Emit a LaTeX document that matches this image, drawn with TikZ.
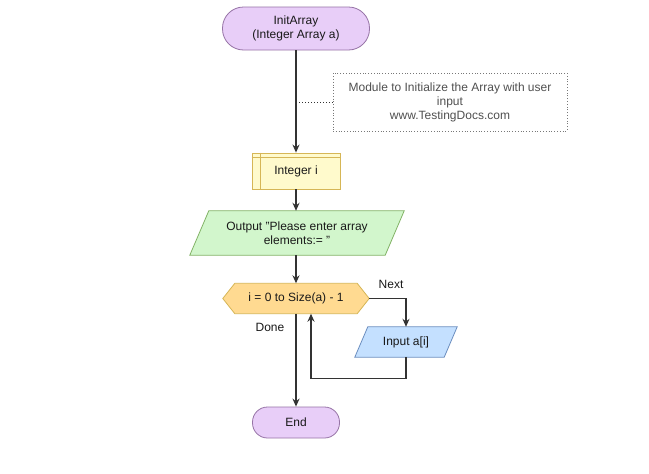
\documentclass[tikz,border=0pt]{standalone}
\usepackage{fontspec}
\setmainfont{Liberation Sans}
\usetikzlibrary{arrows.meta,calc}

\definecolor{termfill}{RGB}{232,206,248}
\definecolor{termdraw}{RGB}{150,115,166}
\definecolor{declfill}{RGB}{255,250,204}
\definecolor{decldraw}{RGB}{214,182,86}
\definecolor{outfill}{RGB}{210,246,204}
\definecolor{outdraw}{RGB}{130,179,102}
\definecolor{loopfill}{RGB}{255,218,145}
\definecolor{loopdraw}{RGB}{214,182,86}
\definecolor{infill}{RGB}{196,224,255}
\definecolor{indraw}{RGB}{108,142,191}
\definecolor{wire}{RGB}{51,51,51}
\definecolor{notetext}{RGB}{80,80,80}
\definecolor{notedraw}{RGB}{120,120,120}

\tikzset{
  txt/.style={font=\fontsize{12}{14}\selectfont, text=black!90, align=center},
  term/.style={txt, draw=termdraw, fill=termfill, line width=0.8pt, inner sep=0pt},
  decl/.style={txt, draw=decldraw, fill=declfill, line width=0.8pt, inner sep=0pt},
  frame/.style={txt, inner sep=0pt},
  conn/.style={draw=wire, line width=1.3pt, -{Stealth[length=8pt,width=7pt]}},
  link/.style={draw=wire, line width=1.3pt},
  notelink/.style={draw=wire, line width=1pt, dotted},
  notebox/.style={txt, text=notetext, draw=notedraw, line width=0.8pt, dotted, inner sep=0pt},
  lbl/.style={txt},
}

\begin{document}
\begin{tikzpicture}[x=1pt,y=-1pt]
\useasboundingbox[fill=white] (0,0) rectangle (649,474);

% start terminator
\node[term, minimum width=147pt, minimum height=43pt, rounded corners=21pt]
  (start) at (296,28.5) {InitArray\\(Integer Array a)};

% annotation
\node[notebox, minimum width=234pt, minimum height=58pt]
  (note) at (450,102) {Module to Initialize the Array with user\\input\\www.TestingDocs.com};

% declaration box
\node[decl, minimum width=88pt, minimum height=36pt]
  (int) at (296,171) {\raisebox{-2.5pt}{Integer i}};
\draw[decldraw, line width=0.8pt] ([yshift=-5pt]int.north west) -- ([yshift=-5pt]int.north east);
\draw[decldraw, line width=0.8pt] ([xshift=9pt]int.north west) -- ([xshift=9pt]int.south west);

% output parallelogram
\node[frame, minimum width=214pt, minimum height=44pt]
  (out) at (297,233) {};
\draw[draw=outdraw, fill=outfill, line width=0.8pt]
  (out.south west) -- ([xshift=19pt]out.north west) -- (out.north east)
  -- ([xshift=-19pt]out.south east) -- cycle;
\node[txt] at (out.center) {Output "Please enter array\\elements:= "};

% loop hexagon
\node[frame, minimum width=146pt, minimum height=30pt]
  (loop) at (296,298.5) {};
\draw[draw=loopdraw, fill=loopfill, line width=0.8pt]
  (loop.west) -- ([xshift=12pt]loop.north west) -- ([xshift=-12pt]loop.north east)
  -- (loop.east) -- ([xshift=-12pt]loop.south east) -- ([xshift=12pt]loop.south west) -- cycle;
\node[txt] at (loop.center) {i = 0 to Size(a) - 1};

% input parallelogram
\node[frame, minimum width=102pt, minimum height=30pt]
  (inp) at (406,342) {};
\draw[draw=indraw, fill=infill, line width=0.8pt]
  (inp.south west) -- ([xshift=13pt]inp.north west) -- (inp.north east)
  -- ([xshift=-13pt]inp.south east) -- cycle;
\node[txt] at (inp.center) {Input a[i]};

% end terminator
\node[term, minimum width=87pt, minimum height=31pt, rounded corners=15pt]
  (end) at (296,422.5) {End};

% branch labels
\node[lbl] (next) at (391,284) {Next};
\node[lbl] (done) at (270,327) {Done};

% connectors
\coordinate (ret) at ([xshift=15pt]loop.south);
\draw[conn] (start.south) -- (int.north);
\draw[notelink] (note.west) -- (note.west -| start.south);
\draw[conn] (int.south) -- (int.south |- out.north);
\draw[conn] (out.south -| loop.north) -- (loop.north);
\draw[conn] (loop.east) -| (inp.north);
\draw[conn] (inp.south) -- ++(0,21) -| (ret);
\draw[conn] (loop.south) -- (end.north);
\end{tikzpicture}
\end{document}
